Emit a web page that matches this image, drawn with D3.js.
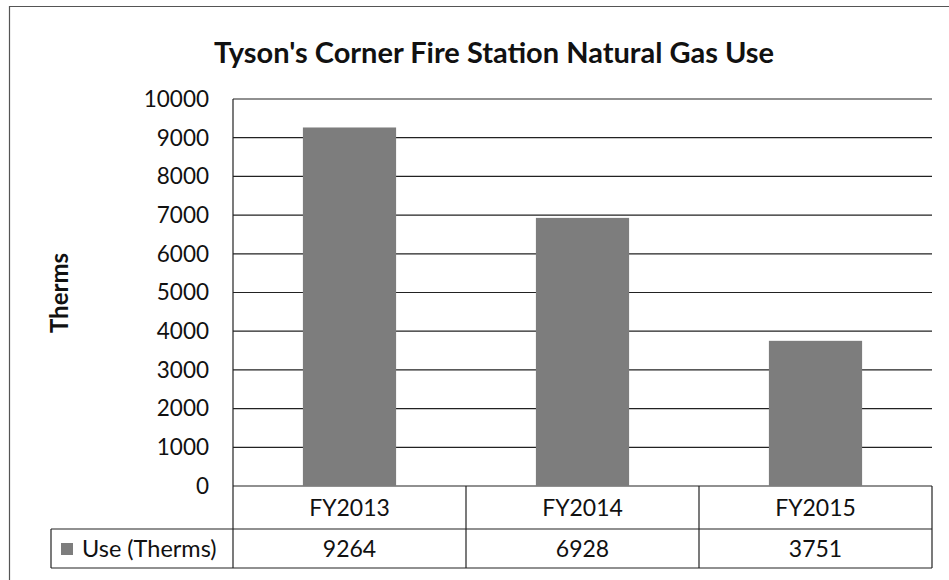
<!DOCTYPE html>
<meta charset="utf-8">
<script src="https://d3js.org/d3.v7.min.js"></script>
<style>
  body { margin: 0; background: #fff; }
  text { font-family: Lato, "Open Sans", sans-serif; fill: #111; }
</style>
<div id="chart"></div>
<script>

    // data
    const years = ["FY2013", "FY2014", "FY2015"];
    const useTherms = [9264, 6928, 3751];
    const yTicks = [0, 1000, 2000, 3000, 4000, 5000, 6000, 7000, 8000, 9000, 10000];
    const seriesName = "Use (Therms)";

    const W = 949, H = 580;
    const plot = { left: 233, right: 932, top: 99, bottom: 486 };
    const table = { left: 51, row1: 529, row2: 568 };
    const barColor = "#7d7d7d";

    const svg = d3.select("#chart")
        .append("svg")
        .attr("width", W)
        .attr("height", H);

    // outer chart border (right/bottom run off the page)
    svg.append("path")
        .attr("d", `M9.5,${H + 5} V6.5 H${W + 5}`)
        .attr("fill", "none")
        .attr("stroke", "#555")
        .attr("stroke-width", 1.2);

    const x = d3.scaleBand()
        .domain(years)
        .range([plot.left, plot.right]);

    const y = d3.scaleLinear()
        .domain([0, 10000])
        .range([plot.bottom, plot.top]);

    // gridlines
    svg.append("g")
        .selectAll("line")
        .data(yTicks)
        .join("line")
        .attr("x1", plot.left)
        .attr("x2", plot.right)
        .attr("y1", d => y(d))
        .attr("y2", d => y(d))
        .attr("stroke", "#222")
        .attr("stroke-width", 1.2);

    // y tick labels
    svg.append("g")
        .selectAll("text")
        .data(yTicks)
        .join("text")
        .attr("x", 209)
        .attr("y", d => y(d))
        .attr("dy", "0.35em")
        .attr("text-anchor", "end")
        .attr("font-size", 22.5)
        .text(d => d);

    // bars
    const barW = x.bandwidth() * 0.4;
    svg.append("g")
        .selectAll("rect")
        .data(useTherms)
        .join("rect")
        .attr("x", (d, i) => x(years[i]) + (x.bandwidth() - barW) / 2)
        .attr("y", d => y(d))
        .attr("width", barW)
        .attr("height", d => y(0) - y(d))
        .attr("fill", barColor);

    // y axis line
    svg.append("line")
        .attr("x1", plot.left).attr("x2", plot.left)
        .attr("y1", plot.top).attr("y2", table.row2)
        .attr("stroke", "#222").attr("stroke-width", 1.2);

    // data table lines
    const tg = svg.append("g").attr("stroke", "#222").attr("stroke-width", 1.2);
    tg.selectAll("line.v")
        .data(years)
        .join("line")
        .attr("class", "v")
        .attr("x1", d => x(d) + x.bandwidth())
        .attr("x2", d => x(d) + x.bandwidth())
        .attr("y1", plot.bottom)
        .attr("y2", table.row2);
    tg.append("line")
        .attr("x1", table.left).attr("x2", plot.right)
        .attr("y1", table.row1).attr("y2", table.row1);
    tg.append("line")
        .attr("x1", table.left).attr("x2", plot.right)
        .attr("y1", table.row2).attr("y2", table.row2);
    tg.append("line")
        .attr("x1", table.left).attr("x2", table.left)
        .attr("y1", table.row1).attr("y2", table.row2);

    // category labels
    svg.append("g")
        .selectAll("text")
        .data(years)
        .join("text")
        .attr("x", d => x(d) + x.bandwidth() / 2)
        .attr("y", (plot.bottom + table.row1) / 2)
        .attr("dy", "0.35em")
        .attr("text-anchor", "middle")
        .attr("font-size", 23)
        .text(d => d);

    // values row
    svg.append("g")
        .selectAll("text")
        .data(useTherms)
        .join("text")
        .attr("x", (d, i) => x(years[i]) + x.bandwidth() / 2)
        .attr("y", (table.row1 + table.row2) / 2)
        .attr("dy", "0.35em")
        .attr("text-anchor", "middle")
        .attr("font-size", 23)
        .text(d => d);

    // legend key + series name
    svg.append("rect")
        .attr("x", 61).attr("y", 543)
        .attr("width", 12).attr("height", 12)
        .attr("fill", barColor);
    svg.append("text")
        .attr("x", 82)
        .attr("y", (table.row1 + table.row2) / 2)
        .attr("dy", "0.35em")
        .attr("font-size", 23.5)
        .text(seriesName);

    // y axis title
    svg.append("text")
        .attr("transform", "translate(68,293) rotate(-90)")
        .attr("text-anchor", "middle")
        .attr("font-size", 24)
        .attr("font-weight", "bold")
        .text("Therms");

    // chart title
    svg.append("text")
        .attr("x", 494)
        .attr("y", 63)
        .attr("text-anchor", "middle")
        .attr("font-size", 29)
        .attr("font-weight", "bold")
        .text("Tyson's Corner Fire Station Natural Gas Use");

</script>
